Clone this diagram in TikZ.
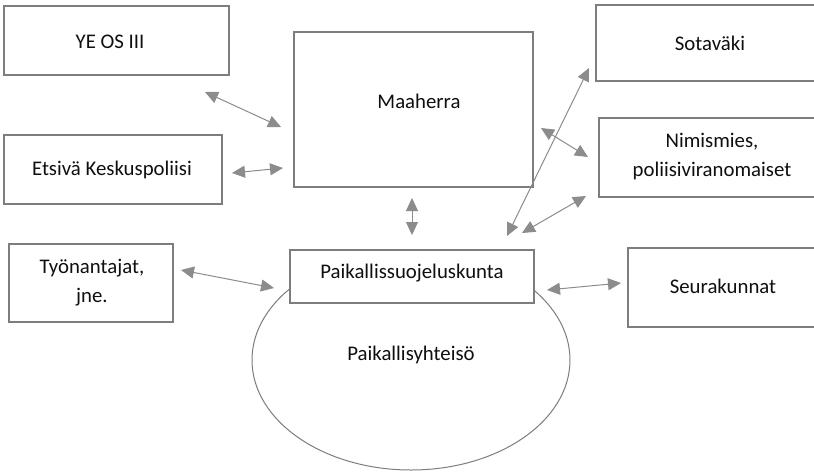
\documentclass[tikz,border=0pt]{standalone}
\usepackage{fontspec}
\setmainfont{Carlito}
\usetikzlibrary{arrows.meta,shapes.geometric}
\definecolor{boxline}{RGB}{125,125,125}
\definecolor{arrowc}{RGB}{140,140,140}
\definecolor{txt}{RGB}{15,15,15}
\begin{document}
\begin{tikzpicture}[x=1pt,y=-1pt,
  box/.style={draw=boxline, line width=1.2pt, fill=white, inner sep=0pt, rectangle},
  lbl/.style={text=txt, font=\fontsize{20.8}{29}\selectfont, align=center, inner sep=0pt},
  link/.style={draw=arrowc, line width=1pt, {Triangle[length=13pt,width=12pt]}-{Triangle[length=13pt,width=12pt]}}]
\useasboundingbox (0,0) rectangle (814,472);
\clip (0,0) rectangle (814,472);
\fill[white] (0,0) rectangle (814,472);
% community ellipse
\node[draw=boxline, line width=1pt, ellipse, minimum width=318pt, minimum height=220pt, inner sep=0pt] (comm) at (411,360) {};
% boxes
\node[box, minimum width=225pt, minimum height=69pt] (ye) at (116.5,40.5) {};
\node[box, minimum width=239pt, minimum height=155pt] (maa) at (413.5,109.5) {};
\node[box, minimum width=222pt, minimum height=76pt] (sot) at (707,43) {};
\node[box, minimum width=219pt, minimum height=79pt] (nim) at (708.5,157.5) {};
\node[box, minimum width=218pt, minimum height=69pt] (ets) at (113,169.5) {};
\node[box, minimum width=164pt, minimum height=78pt] (tyo) at (91,283) {};
\node[box, minimum width=244pt, minimum height=53pt] (pai) at (412,276.5) {};
\node[box, minimum width=190pt, minimum height=79pt] (seu) at (723,287.5) {};
% labels
\node[lbl] (yeT) at (110,42) {YE OS III};
\node[lbl] (maaT) at (419,101) {Maaherra};
\node[lbl] (sotT) at (710,43) {Sotaväki};
\node[lbl] (nimT) at (712,157) {Nimismies,\\poliisiviranomaiset};
\node[lbl] (etsT) at (112,170) {Etsivä Keskuspoliisi};
\node[lbl] (tyoT) at (92,283) {Työnantajat,\\jne.};
\node[lbl] (paiT) at (412,273) {Paikallissuojeluskunta};
\node[lbl] (commT) at (411,355) {Paikallisyhteisö};
\node[lbl] (seuT) at (723,286) {Seurakunnat};
% arrow end points
\coordinate (a1s) at (205,92);  \coordinate (a1e) at (281,127);
\coordinate (a2s) at (232,173); \coordinate (a2e) at (283,168);
\coordinate (a3s) at (412,198); \coordinate (a3e) at (412,235);
\coordinate (a4s) at (181,270); \coordinate (a4e) at (274,288);
\coordinate (a5s) at (547,290); \coordinate (a5e) at (621,283);
\coordinate (a6s) at (507,236); \coordinate (a6e) at (589,68);
\coordinate (a7s) at (541,128); \coordinate (a7e) at (588,157);
\coordinate (a8s) at (522,233); \coordinate (a8e) at (586,196);
% arrows
\draw[link] (a1s) -- (a1e);
\draw[link] (a2s) -- (a2e);
\draw[link] (a3s) -- (a3e);
\draw[link] (a4s) -- (a4e);
\draw[link] (a5s) -- (a5e);
\draw[link] (a6s) -- (a6e);
\draw[link] (a7s) -- (a7e);
\draw[link] (a8s) -- (a8e);
\end{tikzpicture}
\end{document}
